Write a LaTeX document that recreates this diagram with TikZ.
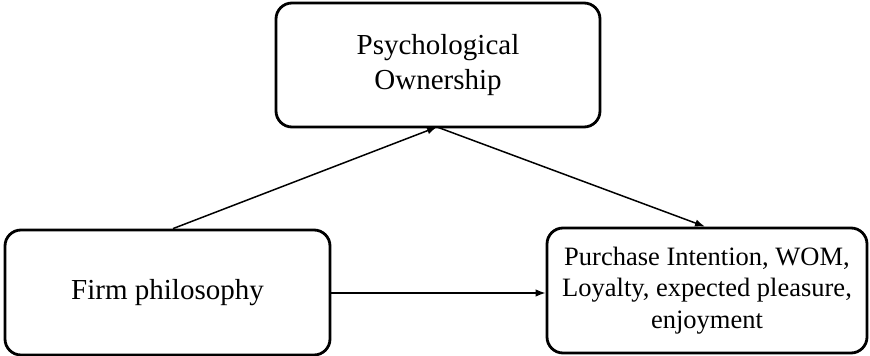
\documentclass[tikz,border=0pt]{standalone}
\usepackage{fontspec}
\setmainfont{Liberation Serif}
\usetikzlibrary{arrows.meta}
\begin{document}
\begin{tikzpicture}[x=1pt,y=-1pt,
  box/.style={draw, line width=2.8pt, rounded corners=16pt, inner sep=0pt, align=center,
    font=\fontsize{29}{35}\selectfont},
  arr/.style={line width=1.5pt, -{Latex[length=10pt,width=7.5pt]}}]
\useasboundingbox (0,0) rectangle (870,356);
\node[box, minimum width=324pt, minimum height=124pt] (po) at (438,65) {Psychological\\Ownership};
\node[box, minimum width=325pt, minimum height=125pt] (fp) at (167.5,292.5) {Firm philosophy};
\node[box, minimum width=320pt, minimum height=125pt, font=\fontsize{26.5}{31.5}\selectfont] (out) at (707,290.5) {Purchase Intention, WOM,\\Loyalty, expected pleasure,\\enjoyment};
\coordinate (pob) at (437,127);
\draw[arr] (fp.north -| 173,0) -- (pob);
\draw[arr] (pob) -- (out.north -| 705,0);
\draw[arr] (fp.east |- 0,293) -- (out.west |- 0,293);
\end{tikzpicture}
\end{document}
